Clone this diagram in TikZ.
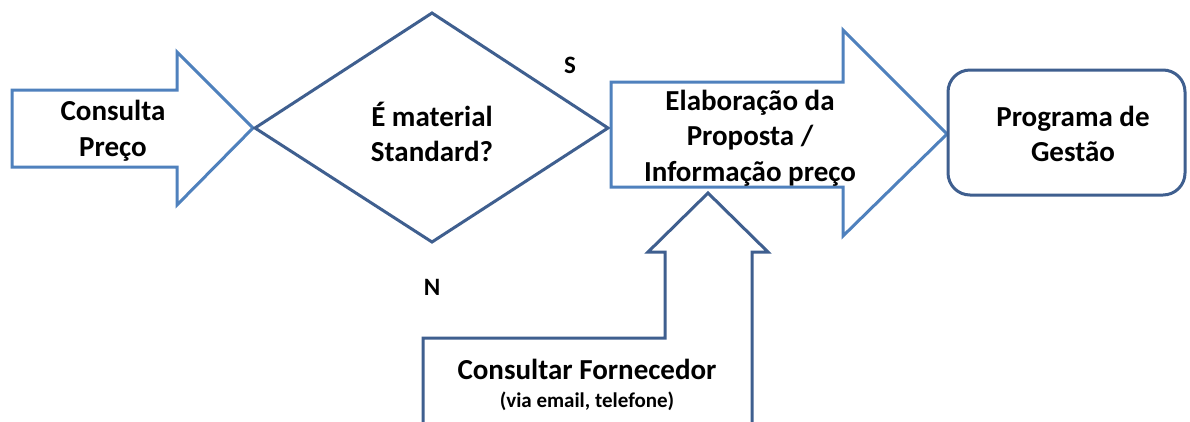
\documentclass[tikz,border=0pt]{standalone}
\usepackage{fontspec}
\setmainfont{Carlito}
\definecolor{lightblue}{HTML}{4F81BD}
\definecolor{darkblue}{HTML}{3F5F8F}
\begin{document}
\begin{tikzpicture}[x=1pt,y=-1pt,
  outlinelight/.style={draw=lightblue,line width=3pt,line join=miter},
  outlinedark/.style={draw=darkblue,line width=3pt,line join=miter},
  label/.style={font=\fontsize{29}{35.5}\selectfont\bfseries,align=center,inner sep=0pt},
  smalllabel/.style={font=\fontsize{21}{25}\selectfont\bfseries,align=center,inner sep=0pt},
  mark label/.style={font=\fontsize{25}{30}\selectfont\bfseries,inner sep=0pt}]
\useasboundingbox (0,0) rectangle (1190,421);
\clip (0,0) rectangle (1190,421);
\fill[white] (0,0) rectangle (1190,421);

% block arrow: Consulta Preco
\draw[outlinelight] (12,90) -- (177,90) -- (177,52) -- (253,128) -- (177,205) -- (177,167) -- (12,167) -- cycle;
% decision diamond
\draw[outlinedark] (255,128) -- (432,13) -- (608,128) -- (432,242) -- cycle;
% block arrow: Elaboracao da Proposta
\draw[outlinelight] (611,82) -- (843,82) -- (843,30) -- (947,134) -- (843,236) -- (843,187) -- (611,187) -- cycle;
% rounded box: Programa de Gestao
\draw[outlinedark,rounded corners=22pt] (948,70) rectangle (1185,195);
% upward block arrow: Consultar Fornecedor
\draw[outlinedark] (423,430) -- (423,338) -- (665,338) -- (665,252) -- (648,252) -- (708,193) -- (768,252) -- (752,252) -- (752,430);

\node[label] (consulta) at (113,131) {Consulta\\Preço};
\node[label] (decisao) at (432,132) {É material\\Standard?};
\node[mark label] (sim) at (570,65) {S};
\node[mark label] (nao) at (432,287) {N};
\node[label] (elab) at (750,138) {Elaboração da\\Proposta /\\Informação preço};
\node[label] (prog) at (1073,134) {Programa de\\Gestão};
\node[label] (forn) at (587,369) {Consultar Fornecedor};
\node[smalllabel] (via) at (587,401) {(via email, telefone)};
\end{tikzpicture}
\end{document}
